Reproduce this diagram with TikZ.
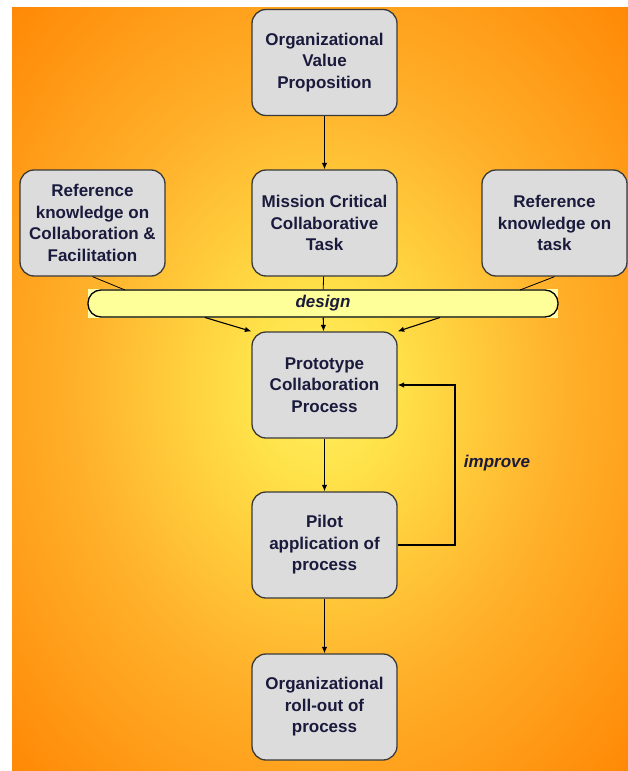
\documentclass[tikz,border=0pt]{standalone}
\usepackage{fontspec}
\setmainfont{Liberation Sans}
\usetikzlibrary{arrows.meta,calc}
\definecolor{boxfill}{HTML}{DCDCDC}
\definecolor{boxline}{HTML}{3A3A3A}
\definecolor{txt}{HTML}{1A1A3C}
\definecolor{barfill}{HTML}{FFFF99}
\definecolor{bgin}{HTML}{FFF060}
\definecolor{bgin2}{HTML}{FFE24A}
\definecolor{bgmid}{HTML}{FFB02A}
\definecolor{bgout}{HTML}{FF8200}
\pgfdeclareradialshading{bgshade}{\pgfpoint{0bp}{0bp}}{color(0bp)=(bgin); color(6bp)=(bgin2); color(20bp)=(bgmid); color(38bp)=(bgout); color(100bp)=(bgout)}
\tikzset{
  box/.style={draw=boxline, fill=boxfill, rounded corners=14pt, minimum width=145pt,
    minimum height=106pt, line width=1.3pt, align=center, inner sep=0pt,
    font=\fontsize{17}{21.5}\selectfont\bfseries, text=txt},
  barbox/.style={draw=black, fill=barfill, rounded corners=13pt, minimum width=470pt,
    minimum height=27pt, line width=1.3pt, inner sep=0pt,
    font=\fontsize{17}{20}\selectfont\bfseries\itshape, text=txt},
  lbl/.style={font=\fontsize{17}{20}\selectfont\bfseries\itshape, text=txt, inner sep=0pt},
  conn/.style={draw=black, line width=0.8pt},
  arr/.style={draw=black, line width=1.1pt, -{Latex[length=6.5pt,width=5.5pt]}}
}
\begin{document}
\begin{tikzpicture}[x=1pt,y=-1pt]
\useasboundingbox (0,0) rectangle (628,771);
\fill[white] (0,0) rectangle (628,771);
\shade[shading=bgshade] (12,7) rectangle (628,770);

\node[box] (top) at (324.5,62.5) {Organizational\\Value\\Proposition};
\node[box] (refL) at (92.5,223) {Reference\\knowledge on\\Collaboration \&\\Facilitation};
\node[box] (mission) at (324.5,223) {Mission Critical\\Collaborative\\Task};
\node[box] (refR) at (554.5,223) {Reference\\knowledge on\\task};
\fill[barfill!80!white] (88,289) rectangle (558,318);
\node[barbox] (design) at (323,303.5) {design};
\node[box] (proto) at (324.5,385) {Prototype\\Collaboration\\Process};
\node[box] (pilot) at (324.5,545) {Pilot\\application of\\process};
\node[box] (roll) at (324.5,707) {Organizational\\roll-out of\\process};
\node[lbl] (imp) at (497,463) {improve};

\coordinate (d1) at (125,290);
\coordinate (d3) at (520,290);
\coordinate (d4) at (205,317.5);
\coordinate (d5) at (440,317.5);
\coordinate (loopx) at (455,0);

\draw[arr] (top) -- (mission);
\draw[conn] (refL.south) -- (d1);
\draw[conn] (refR.south) -- (d3);
\draw[conn] (mission) -- (design);
\draw[arr] (d4) -- (proto.north west);
\draw[arr] (d5) -- (proto.north east);
\draw[arr] (design) -- (proto);
\draw[arr] (proto) -- (pilot);
\draw[arr] (pilot) -- (roll);
\draw[arr] (pilot.east) -- (pilot.east -| loopx) -- (proto.east -| loopx) -- (proto.east);
\end{tikzpicture}
\end{document}
